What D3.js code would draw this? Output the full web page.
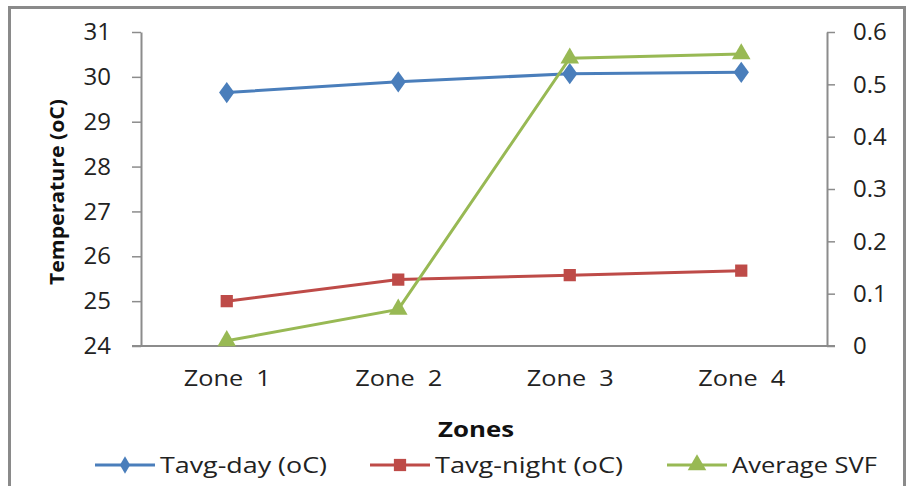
<!DOCTYPE html>
<html><head><meta charset="utf-8">
<script src="https://cdn.jsdelivr.net/npm/d3@7"></script>
<style>body{margin:0;background:#fff}text{font-family:"Open Sans","Liberation Sans",sans-serif;white-space:pre}</style>
</head><body><svg id="c" width="908" height="486"></svg>
<script>
const categories = ["Zone  1","Zone  2","Zone  3","Zone  4"];
const tavgDay = [29.65, 29.89, 30.07, 30.10];
const tavgNight = [25.0, 25.48, 25.58, 25.68];
const avgSVF = [0.01, 0.07, 0.55, 0.558];
const leftTicks = [24,25,26,27,28,29,30,31];
const rightTicks = [0,0.1,0.2,0.3,0.4,0.5,0.6];
const seriesNames = ["Tavg-day (oC)","Tavg-night (oC)","Average SVF"];

const svg = d3.select("#c");
svg.append("rect").attr("x",9.5).attr("y",7.5).attr("width",895).attr("height",500)
  .attr("fill","#fff").attr("stroke","#8a8a8a").attr("stroke-width",3);

const L=141, R=827, T=32, B=346;
const x = d3.scalePoint().domain(categories).range([L,R]).padding(0.5);
const yL = d3.scaleLinear().domain([24,31]).range([B,T]);
const yR = d3.scaleLinear().domain([0,0.6]).range([B,T]);
const axisColor="#8c8c8c";

const gL = svg.append("g").attr("transform",`translate(${L},0)`)
  .call(d3.axisLeft(yL).tickValues(leftTicks).tickFormat(d3.format("d")).tickSize(9).tickPadding(21).tickSizeOuter(0));
const gR = svg.append("g").attr("transform",`translate(${R},0)`)
  .call(d3.axisRight(yR).tickValues(rightTicks).tickFormat(d=>d===0?"0":d3.format(".1f")(d)).tickSize(8).tickPadding(18).tickSizeOuter(0));
const gX = svg.append("g").attr("transform",`translate(0,${B})`)
  .call(d3.axisBottom(x).tickSize(0).tickPadding(24).tickSizeOuter(0));
gX.select(".domain").attr("d",`M${L-9},0H${R+8}`);
[gL,gR,gX].forEach(g=>{
  g.selectAll(".domain").attr("stroke",axisColor).attr("stroke-width",2);
  g.selectAll(".tick line").attr("stroke",axisColor).attr("stroke-width",1.5);
  g.selectAll("text").attr("font-size",24).attr("fill","#222").style("font-family","'Open Sans',sans-serif");
});
gX.selectAll(".tick text").attr("font-size",22).attr("textLength",87).attr("lengthAdjust","spacingAndGlyphs");

svg.append("text").attr("transform","translate(64,192) rotate(-90)").attr("text-anchor","middle")
  .attr("font-size",19).attr("font-weight","bold").attr("fill","#111")
  .attr("textLength",186).attr("lengthAdjust","spacingAndGlyphs").text("Temperature (oC)");
svg.append("text").attr("x",476).attr("y",437).attr("text-anchor","middle")
  .attr("font-size",21).attr("font-weight","bold").attr("fill","#111")
  .attr("textLength",76).attr("lengthAdjust","spacingAndGlyphs").text("Zones");

const colors = ["#4a7ebb","#be4b48","#98b954"];
const shapes = [d3.symbolDiamond, d3.symbolSquare, d3.symbolTriangle];
const sizes = [130, 150, 150];
const data = [
  {vals:tavgDay, y:yL},
  {vals:tavgNight, y:yL},
  {vals:avgSVF, y:yR}
];
data.forEach((s,i)=>{
  const line = d3.line().x((d,j)=>x(categories[j])).y(d=>s.y(d));
  svg.append("path").datum(s.vals).attr("d",line).attr("fill","none")
    .attr("stroke",colors[i]).attr("stroke-width",3);
  svg.selectAll(null).data(s.vals).enter().append("path")
    .attr("d",d3.symbol().type(shapes[i]).size(sizes[i]))
    .attr("transform",(d,j)=>`translate(${x(categories[j])},${s.y(d)})${i===0?" scale(1.25,1)":""}`)
    .attr("fill",colors[i]);
});

const legX = [95, 370, 667];
const legLen = [167, 188, 145];
seriesNames.forEach((n,i)=>{
  const g = svg.append("g").attr("transform",`translate(${legX[i]},465)`);
  g.append("line").attr("x1",0).attr("x2",60).attr("stroke",colors[i]).attr("stroke-width",3);
  g.append("path").attr("d",d3.symbol().type(shapes[i]).size(i===0?90:150)).attr("transform","translate(30,0)").attr("fill",colors[i]);
  g.append("text").attr("x",65).attr("y",8).attr("font-size",22).attr("fill","#222")
    .attr("textLength",legLen[i]).attr("lengthAdjust","spacingAndGlyphs").text(n);
});
</script></body></html>
